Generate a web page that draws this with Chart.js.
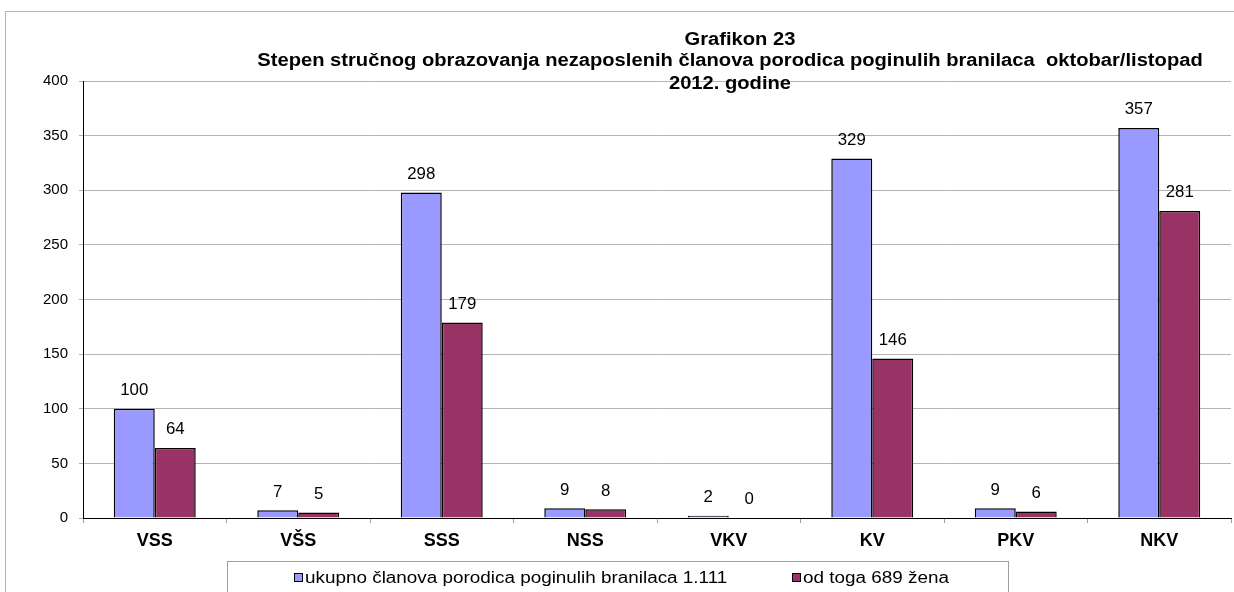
<!DOCTYPE html>
<html>
<head>
<meta charset="utf-8">
<script src="https://cdn.jsdelivr.net/npm/chart.js@4.4.0/dist/chart.umd.min.js"></script>
<style>
    html, body { margin: 0; padding: 0; background: #fff; }
    #wrap { position: relative; width: 1234px; height: 592px; }
</style>
</head>
<body>
<div id="wrap"><canvas id="barChart" width="1234" height="592"></canvas></div>
<script>
const categories = ['VSS', 'VŠS', 'SSS', 'NSS', 'VKV', 'KV', 'PKV', 'NKV'];
const ukupno = [100, 7, 298, 9, 2, 329, 9, 357];
const zene = [64, 5, 179, 8, 0, 146, 6, 281];
const seriesLabels = ['ukupno članova porodica poginulih branilaca 1.111', 'od toga 689 žena'];
const titleLines = [
    'Grafikon 23',
    'Stepen stručnog obrazovanja nezaposlenih članova porodica poginulih branilaca  oktobar/listopad',
    '2012. godine'
];
const yMin = 0;
const yMax = 400;
const yStep = 50;

const font = '"Liberation Sans", Arial, sans-serif';

// text a bit wider than the font, like the original export
const wideText = (ctx, text, x, y, sx) => {
    ctx.save();
    ctx.translate(x, y);
    ctx.scale(sx, 1);
    ctx.fillText(text, 0, 0);
    ctx.restore();
};

// frame, title, legend and value labels
const decor = {
    id: 'decor',
    beforeDraw(chart) {
        const ctx = chart.ctx;
        ctx.save();
        ctx.fillStyle = '#fff';
        ctx.fillRect(0, 0, chart.width, chart.height);
        ctx.strokeStyle = '#b4b4b4';
        ctx.lineWidth = 1;
        ctx.strokeRect(5.5, 11.5, chart.width + 10, chart.height + 10);
        ctx.restore();
    },
    afterDraw(chart) {
        const ctx = chart.ctx;
        ctx.save();

        // title
        ctx.fillStyle = '#000';
        ctx.textAlign = 'center';
        ctx.textBaseline = 'middle';
        ctx.font = 'bold 18px ' + font;
        wideText(ctx, titleLines[0], 740, 40, 1.12);
        wideText(ctx, titleLines[1], 730, 61, 1.12);
        wideText(ctx, titleLines[2], 730, 84, 1.12);

        // value labels
        ctx.font = '16px ' + font;
        chart.data.datasets.forEach((ds, i) => {
            const meta = chart.getDatasetMeta(i);
            meta.data.forEach((bar, j) => {
                wideText(ctx, ds.data[j], bar.x, bar.y - 18, 1.05);
            });
        });

        // legend
        ctx.strokeStyle = '#a0a0a0';
        ctx.lineWidth = 1;
        ctx.strokeRect(227.5, 561.5, 781, 40);
        const items = [[294, chart.data.datasets[0]], [792, chart.data.datasets[1]]];
        ctx.font = '16px ' + font;
        ctx.textAlign = 'left';
        items.forEach(([x, ds]) => {
            ctx.fillStyle = ds.backgroundColor;
            ctx.fillRect(x + 0.5, 573.5, 8, 8);
            ctx.strokeStyle = '#000';
            ctx.strokeRect(x + 0.5, 573.5, 8, 8);
            ctx.fillStyle = '#000';
            wideText(ctx, ds.label, x + 11, 579, 1.18);
        });
        ctx.restore();
    }
};

const ctx = document.getElementById('barChart').getContext('2d');
const barChart = new Chart(ctx, {
    type: 'bar',
    data: {
        labels: categories,
        datasets: [{
            label: seriesLabels[0],
            data: ukupno,
            backgroundColor: '#9999FF',
            borderColor: '#000',
            borderWidth: 1.5,
            categoryPercentage: 0.571,
            barPercentage: 1
        }, {
            label: seriesLabels[1],
            data: zene,
            backgroundColor: '#993366',
            borderColor: '#000',
            borderWidth: 1.5,
            categoryPercentage: 0.571,
            barPercentage: 1
        }]
    },
    options: {
        responsive: false,
        animation: false,
        layout: {
            padding: { top: 81, right: 3, bottom: 34, left: 0 }
        },
        scales: {
            x: {
                grid: {
                    drawOnChartArea: false,
                    drawTicks: true,
                    tickLength: 5,
                    color: '#a0a0a0'
                },
                border: { color: '#000', width: 1 },
                ticks: {
                    color: '#000',
                    padding: 7,
                    font: { family: font, size: 18, weight: 'bold' }
                },
                afterFit(scale) { scale.height = 40; }
            },
            y: {
                min: yMin,
                max: yMax,
                grid: {
                    color: '#b4b4b4',
                    tickLength: 4
                },
                border: { color: '#000', width: 1 },
                ticks: {
                    stepSize: yStep,
                    color: '#000',
                    padding: 11,
                    font: { family: font, size: 15 }
                },
                afterFit(scale) { scale.width = 83; }
            }
        },
        plugins: {
            legend: { display: false },
            tooltip: { enabled: false },
            title: { display: false }
        }
    },
    plugins: [decor]
});
</script>
</body>
</html>
